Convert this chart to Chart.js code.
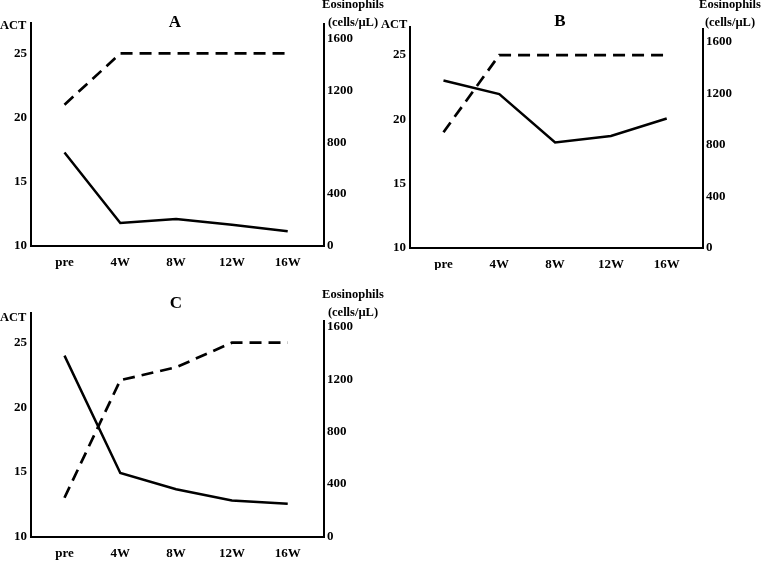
<!DOCTYPE html>
<html><head><meta charset="utf-8">
<script src="https://cdn.jsdelivr.net/npm/chart.js@4"></script>
<style>
html,body{margin:0;padding:0;background:#fff;width:761px;height:564px;overflow:hidden;}
.pane{position:absolute;}
</style></head><body>
<div class="pane" style="left:0;top:0;width:390px;height:270px"><canvas id="cA"></canvas></div>
<div class="pane" style="left:380px;top:0;width:381px;height:270px"><canvas id="cB"></canvas></div>
<div class="pane" style="left:0;top:280px;width:390px;height:284px"><canvas id="cC"></canvas></div>
<script>
// ---- data ----
const categories = ['pre', '4W', '8W', '12W', '16W'];
const actTicks = [10, 15, 20, 25];
const eosTicks = [0, 400, 800, 1200, 1600];
const actA = [21, 25, 25, 25, 25];
const eosA = [720, 175, 205, 160, 110];
const actB = [19, 25, 25, 25, 25];
const eosB = [1300, 1195, 820, 870, 1005];
const actC = [13, 22.1, 23.1, 25, 25];
const eosC = [1380, 485, 360, 275, 250];

const FONT = "'Liberation Serif', 'Times New Roman', serif";

const textPlugin = {
  id: 'panelText',
  afterDraw(chart, args, o) {
    const ctx = chart.ctx;
    const ca = chart.chartArea;
    ctx.save();
    // right axis line
    ctx.strokeStyle = '#000';
    ctx.lineWidth = 2;
    ctx.beginPath();
    ctx.moveTo(ca.right, ca.top + o.rightOff);
    ctx.lineTo(ca.right, ca.bottom + 1);
    ctx.stroke();
    ctx.fillStyle = '#000';
    ctx.textBaseline = 'middle';
    ctx.font = 'bold 17px ' + FONT;
    ctx.textAlign = 'center';
    ctx.fillText(o.title, o.tx, o.ty);
    ctx.font = 'bold 12.5px ' + FONT;
    ctx.textAlign = 'left';
    ctx.fillText('ACT', o.ax, o.ay);
    ctx.textAlign = 'center';
    ctx.fillText('Eosinophils', o.ex, o.ey);
    ctx.fillText('(cells/\u00B5L)', o.ex, o.ey + 18);
    ctx.restore();
  }
};

function makeChart(id, act, eos, p) {
  const tickFont = { family: FONT, size: 13, weight: 'bold' };
  return new Chart(document.getElementById(id), {
    type: 'line',
    data: {
      datasets: [
        {
          label: 'ACT',
          data: act.map((v, i) => ({ x: i, y: v })),
          yAxisID: 'yL',
          borderColor: '#000',
          borderWidth: 2.7,
          borderDash: [12, 7],
          pointRadius: 0,
          tension: 0,
          fill: false
        },
        {
          label: 'Eosinophils',
          data: eos.map((v, i) => ({ x: i, y: v })),
          yAxisID: 'yR',
          borderColor: '#000',
          borderWidth: 2.5,
          pointRadius: 0,
          tension: 0,
          fill: false
        }
      ]
    },
    options: {
      responsive: true,
      maintainAspectRatio: false,
      animation: false,
      events: [],
      layout: { padding: { top: p.top, left: 0, right: p.padR, bottom: 0 } },
      plugins: {
        legend: { display: false },
        tooltip: { enabled: false },
        panelText: p.text
      },
      scales: {
        x: {
          type: 'linear',
          min: -0.6, max: 4.65,
          grid: { display: false, drawTicks: false },
          border: { display: true, color: '#000', width: 2 },
          afterBuildTicks: s => { s.ticks = categories.map((c, i) => ({ value: i })); },
          afterFit: s => { s.height = p.xH; },
          ticks: {
            color: '#000', font: tickFont, padding: p.xPad, maxRotation: 0, autoSkip: false,
            callback: v => categories[v]
          }
        },
        yL: {
          type: 'linear', position: 'left',
          min: 10, max: p.lMax,
          grid: { display: false, drawTicks: false },
          border: { display: true, color: '#000', width: 2 },
          afterBuildTicks: s => { s.ticks = actTicks.map(v => ({ value: v })); },
          afterFit: s => { s.width = p.lW; },
          ticks: { color: '#000', font: tickFont, padding: 4, callback: v => String(v) }
        },
        yR: {
          type: 'linear', position: 'right',
          min: 0, max: p.rMax,
          grid: { display: false, drawTicks: false },
          border: { display: false },
          afterBuildTicks: s => { s.ticks = eosTicks.map(v => ({ value: v })); },
          afterFit: s => { s.width = p.rW; },
          ticks: { color: '#000', font: tickFont, padding: 3, callback: v => String(v) }
        }
      }
    },
    plugins: [textPlugin]
  });
}

makeChart('cA', actA, eosA, {
  top: 23, padR: 10, xH: 24.5, xPad: 9, lW: 31, rW: 56, lMax: 27.38, rMax: 1724,
  text: { rightOff: 0, title: 'A', tx: 175, ty: 23, ax: 0, ay: 26, ex: 353, ey: 5 }
});
makeChart('cB', actB, eosB, {
  top: 27, padR: 0, xH: 22, xPad: 9, lW: 30, rW: 58, lMax: 27.18, rMax: 1716,
  text: { rightOff: 1, title: 'B', tx: 180, ty: 22, ax: 1, ay: 25, ex: 350, ey: 5 }
});
makeChart('cC', actC, eosC, {
  top: 33, padR: 10, xH: 27.5, xPad: 9, lW: 31, rW: 56, lMax: 27.3, rMax: 1705,
  text: { rightOff: 7, title: 'C', tx: 176, ty: 24, ax: 0, ay: 38, ex: 353, ey: 15 }
});
</script>
</body></html>
